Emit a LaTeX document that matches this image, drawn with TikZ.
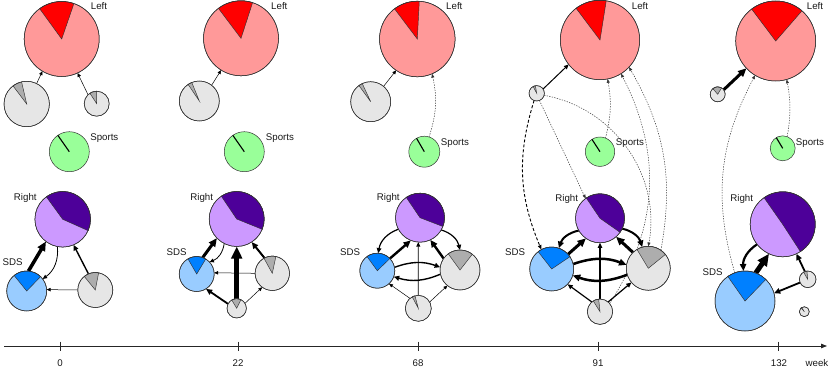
\documentclass[tikz,border=0pt]{standalone}
\usepackage{fontspec}
\setmainfont{Liberation Sans}
\usetikzlibrary{arrows.meta}
\pgfdeclarelayer{edges}
\pgfsetlayers{edges,main}
\definecolor{lred}{HTML}{FF9999}
\definecolor{dred}{HTML}{FF0000}
\definecolor{lgrey}{HTML}{E6E6E6}
\definecolor{dgrey}{HTML}{ADADAD}
\definecolor{lgreen}{HTML}{99FF99}
\definecolor{lpur}{HTML}{CC99FF}
\definecolor{dpur}{HTML}{4D0099}
\definecolor{lblue}{HTML}{99CCFF}
\definecolor{dblue}{HTML}{0080FF}
\definecolor{pieedge}{HTML}{333333}
\tikzset{
  pienode/.style={circle, inner sep=0pt, outer sep=0pt, draw=pieedge, line width=0.5pt},
  lab/.style={font=\fontsize{9.7}{11}\selectfont, text=black!90, inner sep=0pt, anchor=base},
  arr/.style={line width=#1pt, draw=black, -{Triangle[length=3pt 1.8, width=2.6pt 1.6]}},
  dotarr/.style={line width=0.5pt, dash pattern=on 1.3pt off 1.3pt, draw=black!80, -{Triangle[length=3.8pt, width=3pt]}},
  dsh/.style={line width=0.9pt, dash pattern=on 3pt off 2pt, draw=black, -{Triangle[length=4.5pt, width=3.6pt]}},
}
% name, x, y, r, light, dark, a1, a2
\newcommand{\mkpie}[8]{%
  \node[pienode, minimum size=#4*2pt, fill=#5] (#1) at (#2,#3) {};
  \filldraw[fill=#6, draw=pieedge, line width=0.45pt] (#1.center) -- ++(#7:#4pt) arc[start angle=#7, end angle=#8, radius=#4pt] -- cycle;
  \draw[draw=pieedge, line width=0.5pt] (#1.center) circle[radius=#4pt];
}
% name, x, y, r, angle
\newcommand{\mksport}[5]{%
  \node[pienode, minimum size=#4*2pt, fill=lgreen] (#1) at (#2,#3) {};
  \draw[black, line width=1.1pt] (#1.center) -- ++(#5:#4pt);
}
\begin{document}
\begin{tikzpicture}[x=1pt, y=-1pt]
\useasboundingbox (0,0) rectangle (830,369);

% ---------- panel week 0 ----------
\mkpie{L1}{61.7}{39}{37.5}{lred}{dred}{71}{126}
\mkpie{G1a}{26.7}{104}{22.7}{lgrey}{dgrey}{103}{127}
\mkpie{G1b}{96.7}{103.7}{12.5}{lgrey}{dgrey}{90}{123}
\mksport{S1}{69.3}{151.7}{20}{125}
\mkpie{R1}{62.7}{219.3}{27.8}{lpur}{dpur}{-24}{126}
\mkpie{D1}{26.7}{291}{20}{lblue}{dblue}{46}{129}
\mkpie{G1c}{95.3}{290}{17.5}{lgrey}{dgrey}{79}{129}
\node[lab] (tL1) at (99,10) {Left};
\node[lab] (tS1) at (104.3,140) {Sports};
\node[lab] (tR1) at (25.3,200) {Right};
\node[lab] (tD1) at (12.7,265.3) {SDS};

% ---------- panel week 22 ----------
\mkpie{L2}{241}{38.3}{37.5}{lred}{dred}{72}{127}
\mkpie{G2a}{199.3}{101}{20}{lgrey}{dgrey}{112}{124}
\mksport{S2}{244.3}{151.7}{20}{125}
\mkpie{R2}{236.7}{219}{27.5}{lpur}{dpur}{-22}{124}
\mkpie{D2}{196.7}{274}{17.5}{lblue}{dblue}{59}{120}
\mkpie{G2c}{272.3}{273.3}{17.2}{lgrey}{dgrey}{78}{119}
\mkpie{G2d}{236.7}{308.3}{9.7}{lgrey}{dgrey}{64}{121}
\node[lab] (tL2) at (279.3,10) {Left};
\node[lab] (tS2) at (280,140.7) {Sports};
\node[lab] (tR2) at (201.7,200) {Right};
\node[lab] (tD2) at (176.7,255) {SDS};

% ---------- panel week 68 ----------
\mkpie{L3}{417.3}{39}{37.8}{lred}{dred}{87}{127}
\mkpie{G3a}{370.7}{101.7}{20}{lgrey}{dgrey}{115}{126}
\mksport{S3}{424.3}{151.7}{15.5}{120}
\mkpie{R3}{420}{217.7}{24.5}{lpur}{dpur}{-21}{124}
\mkpie{D3}{377.3}{270.7}{17.5}{lblue}{dblue}{44}{126}
\mkpie{G3c}{460}{270}{20}{lgrey}{dgrey}{52}{126}
\mkpie{G3d}{418.3}{308.3}{13}{lgrey}{dgrey}{105}{118}
\node[lab] (tL3) at (454.3,10) {Left};
\node[lab] (tS3) at (455,145.7) {Sports};
\node[lab] (tR3) at (388.3,200.7) {Right};
\node[lab] (tD3) at (350,255) {SDS};

% ---------- panel week 91 ----------
\mkpie{L4}{600}{40}{39.7}{lred}{dred}{81}{127}
\mkpie{G4a}{536.7}{93.3}{7.7}{lgrey}{dgrey}{100}{118}
\mksport{S4}{600}{151.7}{14.7}{123}
\mkpie{R4}{600}{218.3}{24.5}{lpur}{dpur}{-35}{124}
\mkpie{D4}{551.7}{269}{22}{lblue}{dblue}{34}{128}
\mkpie{G4c}{648.3}{268.3}{22}{lgrey}{dgrey}{39}{121}
\mkpie{G4d}{600}{311.7}{12.7}{lgrey}{dgrey}{96}{122}
\node[lab] (tL4) at (640,10) {Left};
\node[lab] (tS4) at (630,145.7) {Sports};
\node[lab] (tR4) at (566.7,201) {Right};
\node[lab] (tD4) at (515,255) {SDS};

% ---------- panel week 132 ----------
\mkpie{L5}{775.7}{41}{40}{lred}{dred}{49}{127}
\mkpie{G5a}{717.7}{94.3}{7.5}{lgrey}{dgrey}{59}{131}
\mksport{S5}{782.7}{148.3}{12.5}{121}
\mkpie{R5}{782.7}{224.3}{32.5}{lpur}{dpur}{-57}{125}
\mkpie{D5}{745}{301}{30}{lblue}{dblue}{46}{125}
\mkpie{G5c}{807.7}{279.3}{8.3}{lgrey}{dgrey}{95}{120}
\mkpie{G5d}{804.3}{311.7}{5}{lgrey}{dgrey}{122}{130}
\node[lab] (tL5) at (815,10) {Left};
\node[lab] (tS5) at (810,145.7) {Sports};
\node[lab] (tR5) at (741.7,201) {Right};
\node[lab] (tD5) at (712.7,275) {SDS};

% ---------- edges ----------
\begin{pgfonlayer}{edges}
% week 0
\draw[arr=0.5] (G1a.64) -- (L1.239);
\draw[arr=0.5] (G1b.134) -- (L1.295);
\draw[arr=3.5] (D1.85) -- (R1.233);
\draw[arr=0.8] (R1.259) to[bend left=30] (D1.37);
\draw[arr=1.4] (G1c.113) -- (R1.293);
\draw[arr=0.5] (G1c.180) -- (D1.4);
% week 22
\draw[arr=0.5] (G2a.52) -- (L2.238);
\draw[arr=3] (D2.70) -- (R2.224);
\draw[arr=0.8] (R2.243) to[bend left=30] (D2.43);
\draw[arr=5] (G2d.90) -- (R2.270);
\draw[arr=2] (G2c.117) -- (R2.303);
\draw[arr=0.5] (G2c.180) -- (D2.4);
\draw[arr=1.8] (G2d.153) -- (D2.302);
\draw[arr=0.5] (G2d.31) -- (G2c.234);
% week 68
\draw[arr=0.5] (G3a.50) -- (L3.236);
\draw[dotarr] (S3.72) to[bend right=15] (L3.293);
\draw[arr=1.2] (R3.208) to[bend right=30] (D3.87);
\draw[arr=1.2] (R3.330) to[bend left=30] (G3c.90);
\draw[arr=2.4] (D3.44) -- (R3.248);
\draw[arr=2.4] (G3c.145) -- (R3.295);
\draw[arr=1.4] (D3.11) to[bend left=20] (G3c.172);
\draw[arr=1.4] (G3c.192) to[bend left=20] (D3.340);
\draw[arr=0.8] (G3d.90) -- (R3.266);
\draw[arr=0.5] (G3d.130) -- (D3.312);
\draw[arr=0.5] (G3d.29) -- (G3c.231);
% week 91
\draw[arr=1] (G4a.34) -- (L4.218);
\draw[dotarr] (S4.68) to[bend right=12] (L4.281);
\draw[dotarr] (G4a.291) -- (R4.126);
\draw[dsh] (G4a.250) to[bend right=20] (D4.118);
\draw[dotarr] (G4a.345) to[bend left=45] (G4c.90);
\draw[dotarr] (G4c.55) to[bend right=20] (L4.317);
\draw[dotarr] (G4d.40) to[bend right=30] (L4.302);
\draw[arr=2] (R4.210) to[bend right=30] (D4.71);
\draw[arr=2] (R4.335) to[bend left=30] (G4c.106);
\draw[arr=3] (D4.42) -- (R4.235);
\draw[arr=3] (G4c.134) -- (R4.311);
\draw[arr=2.5] (D4.13) to[bend left=20] (G4c.171);
\draw[arr=2.5] (G4c.197) to[bend left=20] (D4.343);
\draw[arr=1.2] (G4d.90) -- (R4.270);
\draw[arr=1.2] (G4d.130) -- (D4.316);
\draw[arr=1.2] (G4d.50) -- (G4c.220);
% week 132
\draw[arr=3] (G5a.37) -- (L5.223);
\draw[dotarr] (S5.69) to[bend right=10] (L5.286);
\draw[dotarr] (D5.110) to[bend left=22] (L5.239);
\draw[arr=2.2] (R5.218) to[bend right=30] (D5.93);
\draw[arr=5] (D5.69) -- (R5.245);
\draw[arr=1.8] (G5c.110) -- (R5.295);
\draw[arr=1.8] (G5c.203) -- (D5.15);
\end{pgfonlayer}

% ---------- time axis ----------
\coordinate (ax0) at (4,346);
\coordinate (ax1) at (827,346);
\draw[line width=0.8pt, black!85, -{Triangle[length=6pt, width=4.5pt]}] (ax0) -- (ax1);
\foreach \xx in {60,238,418,598,778} {
  \draw[line width=0.6pt, black!85] (\xx,341.5) -- (\xx,351);
}
\node[lab] (w0) at (60,366.5) {0};
\node[lab] (w22) at (238,366.5) {22};
\node[lab] (w68) at (418,366.5) {68};
\node[lab] (w91) at (598,366.5) {91};
\node[lab] (w132) at (779,366.5) {132};
\node[lab] (wk) at (817,366.5) {week};
\end{tikzpicture}
\end{document}
